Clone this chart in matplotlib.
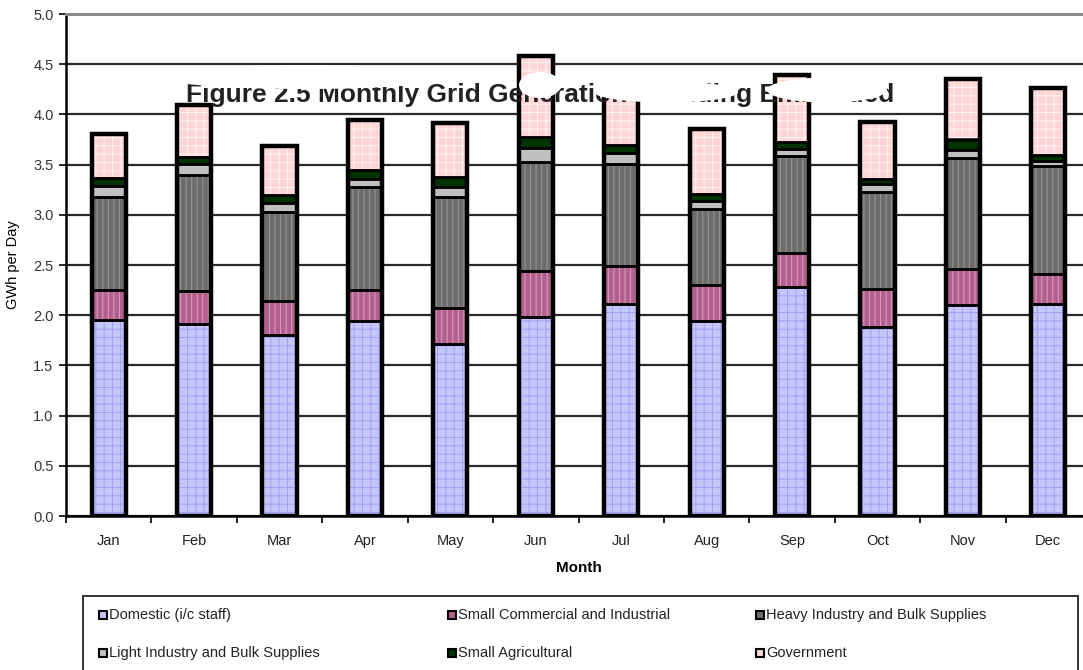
import numpy as np
import matplotlib.pyplot as plt
from matplotlib.patches import Rectangle, Ellipse

plt.rcParams['font.family'] = ['Liberation Sans', 'DejaVu Sans']
plt.rcParams['hatch.linewidth'] = 0.7

# Monthly generation by customer class (GWh per day)
months = ['Jan', 'Feb', 'Mar', 'Apr', 'May', 'Jun', 'Jul', 'Aug', 'Sep', 'Oct', 'Nov', 'Dec']
domestic = [1.95, 1.91, 1.80, 1.94, 1.71, 1.98, 2.11, 1.94, 2.28, 1.88, 2.10, 2.11]
small_comm = [0.30, 0.33, 0.34, 0.31, 0.36, 0.46, 0.38, 0.36, 0.34, 0.38, 0.36, 0.30]
heavy = [0.93, 1.16, 0.89, 1.03, 1.11, 1.09, 1.02, 0.76, 0.97, 0.97, 1.11, 1.08]
light = [0.11, 0.11, 0.09, 0.08, 0.10, 0.14, 0.11, 0.08, 0.07, 0.08, 0.08, 0.05]
agric = [0.08, 0.07, 0.08, 0.09, 0.10, 0.10, 0.08, 0.07, 0.07, 0.05, 0.10, 0.06]
government = [0.43, 0.51, 0.49, 0.49, 0.53, 0.81, 0.52, 0.64, 0.66, 0.56, 0.60, 0.66]

series = [
    ('Domestic (i/c staff)', domestic, '#c6c6ff', '#a0a0f4', '++'),
    ('Small Commercial and Industrial', small_comm, '#b4608e', '#d9a3c2', '|||'),
    ('Heavy Industry and Bulk Supplies', heavy, '#6c6c6c', '#9a9a9a', '|||'),
    ('Light Industry and Bulk Supplies', light, '#c0c0c0', '#c0c0c0', None),
    ('Small Agricultural', agric, '#003300', '#003300', None),
    ('Government', government, '#ffd6d6', '#fff4f4', '++'),
]

fig = plt.figure(figsize=(10.83, 6.70), dpi=100)
ax = fig.add_axes([66 / 1083, 154 / 670, 1025 / 1083, 502 / 670])

x = np.arange(len(months))
w = 0.40
bottom = np.zeros(len(months))
for name, vals, face, hcol, hatch in series:
    vals = np.array(vals)
    ax.bar(x, vals, bottom=bottom, width=w, color=face, edgecolor=hcol,
           hatch=hatch, linewidth=0, zorder=2)
    ax.bar(x, vals, bottom=bottom, width=w, fill=False, edgecolor='black',
           linewidth=1.8, zorder=3)
    bottom += vals

# heavy outline round each whole stack
ax.bar(x, bottom, width=w, fill=False, edgecolor='black', linewidth=3.2, zorder=4)

ax.set_xlim(-0.5, 11.5)
ax.set_ylim(0, 5.0)
yt = np.arange(0, 5.01, 0.5)
ax.set_yticks(yt)
ax.set_yticklabels([f'{v:.1f}' for v in yt], fontsize=10.5, color='#333333')
ax.set_xticks(x)
ax.set_xticklabels(months, fontsize=10.5, color='#222222')
ax.set_xticks(np.arange(-0.5, 12, 1), minor=True)
ax.tick_params(axis='x', which='major', length=0, pad=13)
ax.tick_params(axis='x', which='minor', length=5, width=1.2, direction='out')
ax.tick_params(axis='y', length=5, width=1.2, direction='out', pad=4)

ax.yaxis.grid(True, color='#2a2a2a', linewidth=1.6)
ax.set_axisbelow(True)
ax.spines['right'].set_visible(False)
ax.spines['top'].set_color('#8a8a8a')
ax.spines['top'].set_linewidth(2.2)
ax.spines['left'].set_linewidth(1.8)
ax.spines['bottom'].set_linewidth(1.8)

ax.set_xlabel('Month', fontsize=11, fontweight='bold', labelpad=9)
ax.set_ylabel('GWh per Day', fontsize=10.5, labelpad=9)

# chart heading inside the plot area
fig.text(540 / 1083, 1 - 95 / 670, 'Figure 2.5 Monthly Grid Generation including Embedded',
         ha='center', va='center', fontsize=19, fontweight='bold', color='#222222', zorder=1)

# white blots over parts of the heading
blots = [(305, 77, 290, 24), (540, 85, 42, 26), (666, 92, 144, 21), (827, 90, 120, 25)]
for cx, cy, ew, eh in blots:
    fig.patches.append(Ellipse((cx / 1083, 1 - cy / 670), ew / 1083, eh / 670,
                               transform=fig.transFigure, facecolor='white',
                               edgecolor='none', zorder=10))

# legend box drawn below the plot
fig.patches.append(Rectangle((83 / 1083, -0.02), 995 / 1083, 1 - 596 / 670 + 0.02,
                             transform=fig.transFigure, fill=False,
                             edgecolor='#333333', linewidth=1.4))
cols = [103, 452, 760]
rows = [615, 653]
for i, (name, vals, face, hcol, hatch) in enumerate(series):
    px = cols[i % 3]
    py = rows[i // 3]
    fig.patches.append(Rectangle(((px - 4) / 1083, 1 - (py + 4) / 670), 8 / 1083, 8 / 670,
                                 transform=fig.transFigure, facecolor=face,
                                 edgecolor='black', linewidth=1.5))
    fig.text((px + 6) / 1083, 1 - py / 670, name, fontsize=10.5, va='center',
             ha='left', color='#222222')

fig.savefig('out.png', dpi=100)
